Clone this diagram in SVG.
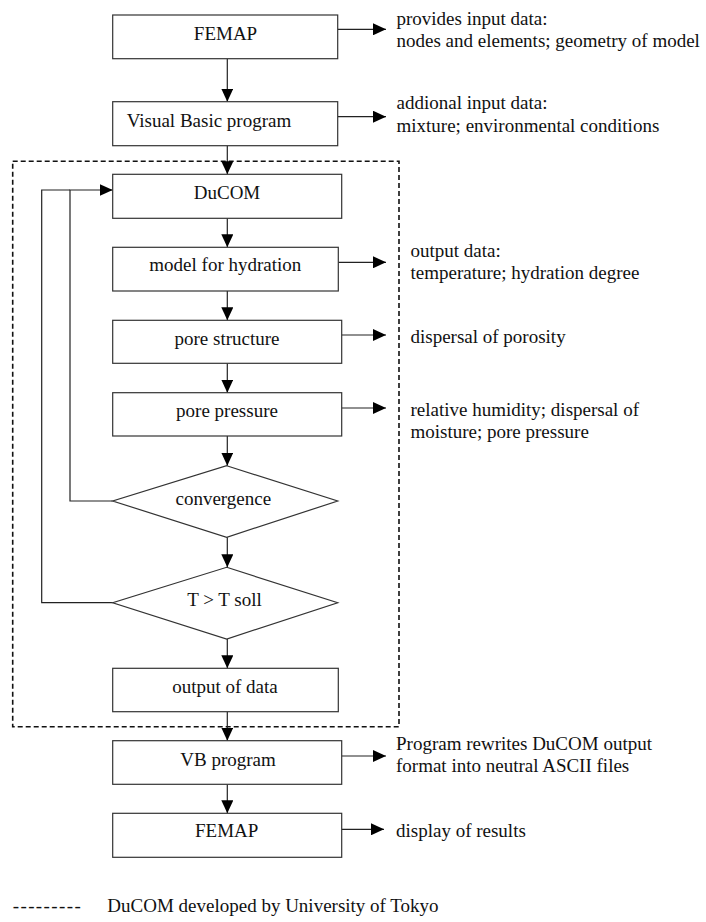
<svg xmlns="http://www.w3.org/2000/svg" width="706" height="922" viewBox="0 0 706 922">
<style>
.box{fill:#fff;stroke:#333;stroke-width:1.2}
.lbl{font-family:"Liberation Serif","Times New Roman",serif;font-size:19px;fill:#111}
.c{text-anchor:middle}
.ln{fill:none;stroke:#222;stroke-width:1.2}
.dash{fill:none;stroke:#111;stroke-width:1.6;stroke-dasharray:5 3}
</style>
<defs>
<marker id="ah" markerUnits="userSpaceOnUse" markerWidth="14" markerHeight="12" refX="13" refY="6" orient="auto">
<path d="M0,0 L13,6 L0,12 z" fill="#000"/>
</marker>
</defs>
<rect id="ducom-frame" class="dash" x="12.7" y="161.3" width="386.3" height="565.4"/>
<g id="connectors">
<line class="ln" x1="227.3" y1="58.7" x2="227.3" y2="101.7" marker-end="url(#ah)"/>
<line class="ln" x1="227.3" y1="145.7" x2="227.3" y2="174.3" marker-end="url(#ah)"/>
<line class="ln" x1="227.3" y1="218.3" x2="227.3" y2="247.3" marker-end="url(#ah)"/>
<line class="ln" x1="227.3" y1="291" x2="227.3" y2="320.3" marker-end="url(#ah)"/>
<line class="ln" x1="227.3" y1="363.3" x2="227.3" y2="392.7" marker-end="url(#ah)"/>
<line class="ln" x1="227.3" y1="436" x2="227.3" y2="465.7" marker-end="url(#ah)"/>
<line class="ln" x1="227.3" y1="537.3" x2="227.3" y2="567.3" marker-end="url(#ah)"/>
<line class="ln" x1="227.3" y1="639" x2="227.3" y2="668.3" marker-end="url(#ah)"/>
<line class="ln" x1="227.3" y1="711.7" x2="227.3" y2="740.7" marker-end="url(#ah)"/>
<line class="ln" x1="227.3" y1="784.3" x2="227.3" y2="813.3" marker-end="url(#ah)"/>
<path class="ln" d="M112.7,501 H70 V190 H112.7" marker-end="url(#ah)"/>
<path class="ln" d="M112.7,602.7 H41.7 V190 H70"/>
<line class="ln" x1="337.7" y1="29.3" x2="386" y2="29.3" marker-end="url(#ah)"/>
<line class="ln" x1="337.7" y1="116.7" x2="386" y2="116.7" marker-end="url(#ah)"/>
<line class="ln" x1="338.3" y1="262.3" x2="386" y2="262.3" marker-end="url(#ah)"/>
<line class="ln" x1="341.7" y1="335" x2="386" y2="335" marker-end="url(#ah)"/>
<line class="ln" x1="341.7" y1="408" x2="386" y2="408" marker-end="url(#ah)"/>
<line class="ln" x1="341.7" y1="756" x2="386" y2="756" marker-end="url(#ah)"/>
<line class="ln" x1="341.7" y1="829.3" x2="384" y2="829.3" marker-end="url(#ah)"/>
</g>
<g id="femap-in">
<rect class="box" x="112.7" y="15" width="225" height="43.7"/>
<text class="lbl c" x="225.5" y="40">FEMAP</text>
</g>
<g id="vb-in">
<rect class="box" x="112.7" y="101.7" width="225" height="44"/>
<text class="lbl" x="126.7" y="126.7">Visual Basic program</text>
</g>
<g id="ducom">
<rect class="box" x="112.7" y="174.3" width="229" height="44"/>
<text class="lbl c" x="227" y="199.3">DuCOM</text>
</g>
<g id="hydration">
<rect class="box" x="112.7" y="247.3" width="225.6" height="43.7"/>
<text class="lbl c" x="225.3" y="271">model for hydration</text>
</g>
<g id="pore-structure">
<rect class="box" x="112.7" y="320.3" width="229" height="43"/>
<text class="lbl c" x="227" y="344.7">pore structure</text>
</g>
<g id="pore-pressure">
<rect class="box" x="112.7" y="392.7" width="229" height="43.3"/>
<text class="lbl c" x="227" y="416.7">pore pressure</text>
</g>
<g id="convergence">
<polygon class="box" points="226.7,465.7 337.7,501 226.7,537.3 112.7,501"/>
<text class="lbl c" x="223.3" y="505.3">convergence</text>
</g>
<g id="t-soll">
<polygon class="box" points="226.7,567.3 337.7,602.7 226.7,639 112.7,602.7"/>
<text class="lbl c" x="224.5" y="605.7">T &gt; T soll</text>
</g>
<g id="output">
<rect class="box" x="112.7" y="668.3" width="225.6" height="43.4"/>
<text class="lbl c" x="225" y="692.7">output of data</text>
</g>
<g id="vb-out">
<rect class="box" x="112.7" y="740.7" width="229" height="43.6"/>
<text class="lbl c" x="228" y="765.7">VB program</text>
</g>
<g id="femap-out">
<rect class="box" x="112.7" y="813.3" width="229" height="44"/>
<text class="lbl c" x="226.7" y="837.3">FEMAP</text>
</g>
<g id="notes">
<text class="lbl" x="396.5" y="24.5">provides input data:</text>
<text class="lbl" x="396.5" y="46.5">nodes and elements; geometry of model</text>
<text class="lbl" x="396.5" y="108.5">addional  input data:</text>
<text class="lbl" x="396.5" y="131.5">mixture; environmental conditions</text>
<text class="lbl" x="410.5" y="256.7">output data:</text>
<text class="lbl" x="410.5" y="279.3">temperature; hydration degree</text>
<text class="lbl" x="410.5" y="343.3">dispersal of porosity</text>
<text class="lbl" x="410.5" y="415.7">relative humidity; dispersal of</text>
<text class="lbl" x="410.5" y="438.3">moisture; pore pressure</text>
<text class="lbl" x="396" y="750">Program rewrites DuCOM output</text>
<text class="lbl" x="396" y="771.7">format into neutral ASCII files</text>
<text class="lbl" x="396" y="837.3">display of results</text>
</g>
<g id="legend">
<text class="lbl" x="12.7" y="911.5" style="letter-spacing:1.4px">---------</text>
<text class="lbl" x="107.3" y="912">DuCOM developed by University of Tokyo</text>
</g>
</svg>
